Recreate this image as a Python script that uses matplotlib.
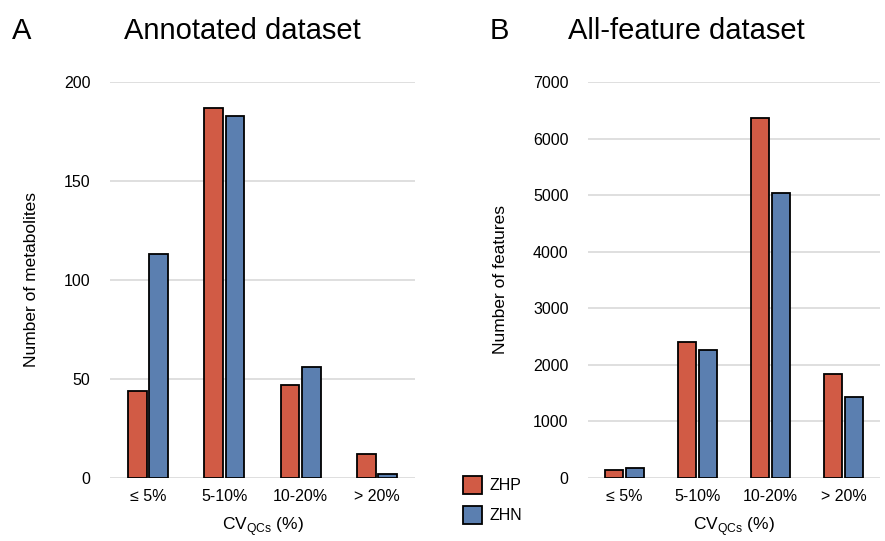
import numpy as np
import matplotlib
matplotlib.use('Agg')
import matplotlib.pyplot as plt
from matplotlib.patches import Rectangle

plt.rcParams['font.family'] = ['Liberation Sans', 'DejaVu Sans']
plt.rcParams['mathtext.fontset'] = 'custom'
plt.rcParams['mathtext.rm'] = 'Liberation Sans'

categories = ['≤ 5%', '5-10%', '10-20%', '> 20%']
series = ['ZHP', 'ZHN']

# A: annotated dataset
annotated_zhp = [44, 187, 47, 12]
annotated_zhn = [113, 183, 56, 2]

# B: all-feature dataset
allfeat_zhp = [140, 2400, 6360, 1840]
allfeat_zhn = [180, 2260, 5035, 1430]

red = '#d15b45'
blue = '#5b7fb0'
grid_col = '#d9d9d9'
width = 0.245
offset = 0.14

fig = plt.figure(figsize=(8.85, 5.41), dpi=100)
ax1 = fig.add_axes([0.1243, 0.1165, 0.3447, 0.7319])
ax2 = fig.add_axes([0.6644, 0.1165, 0.3299, 0.7319])


def draw_panel(ax, zhp, zhn, ymax, step, ylabel):
    x = np.arange(len(categories))
    ax.bar(x - offset, zhp, width, color=red, edgecolor='black', linewidth=1.3, zorder=3)
    ax.bar(x + offset, zhn, width, color=blue, edgecolor='black', linewidth=1.3, zorder=3)
    ax.set_xlim(-0.5, len(categories) - 0.5)
    ax.set_ylim(0, ymax)
    ax.set_yticks(np.arange(0, ymax + 1, step))
    ax.yaxis.grid(True, color=grid_col, linewidth=1.2, zorder=0)
    ax.set_axisbelow(True)
    for s in ax.spines.values():
        s.set_visible(False)
    ax.tick_params(length=0, labelsize=11.5)
    ax.tick_params(axis='y', pad=14)
    ax.tick_params(axis='x', pad=8)
    ax.set_xticks(x)
    ax.set_xticklabels(categories)
    ax.set_xlabel(r'CV$_{\mathregular{QCs}}$ (%)', fontsize=12.5, labelpad=8)
    ax.set_ylabel(ylabel, fontsize=12.5, labelpad=18)


draw_panel(ax1, annotated_zhp, annotated_zhn, 200, 50, 'Number of metabolites')
draw_panel(ax2, allfeat_zhp, allfeat_zhn, 7000, 1000, 'Number of features')

fig.text(0.013, 0.943, 'A', fontsize=21, va='center')
fig.text(0.274, 0.943, 'Annotated dataset', fontsize=21, va='center', ha='center')
fig.text(0.553, 0.943, 'B', fontsize=21, va='center')
fig.text(0.776, 0.943, 'All-feature dataset', fontsize=21, va='center', ha='center')

# legend
for i, (name, col) in enumerate(zip(series, [red, blue])):
    yc = 1 - (485 + i * 30) / 541
    fig.patches.append(Rectangle((463 / 885, yc - 9 / 541), 19 / 885, 18 / 541,
                                 transform=fig.transFigure, facecolor=col,
                                 edgecolor='black', linewidth=1.3))
    fig.text(490 / 885, yc, name, fontsize=11.5, va='center')

fig.savefig('out.png', dpi=100)
